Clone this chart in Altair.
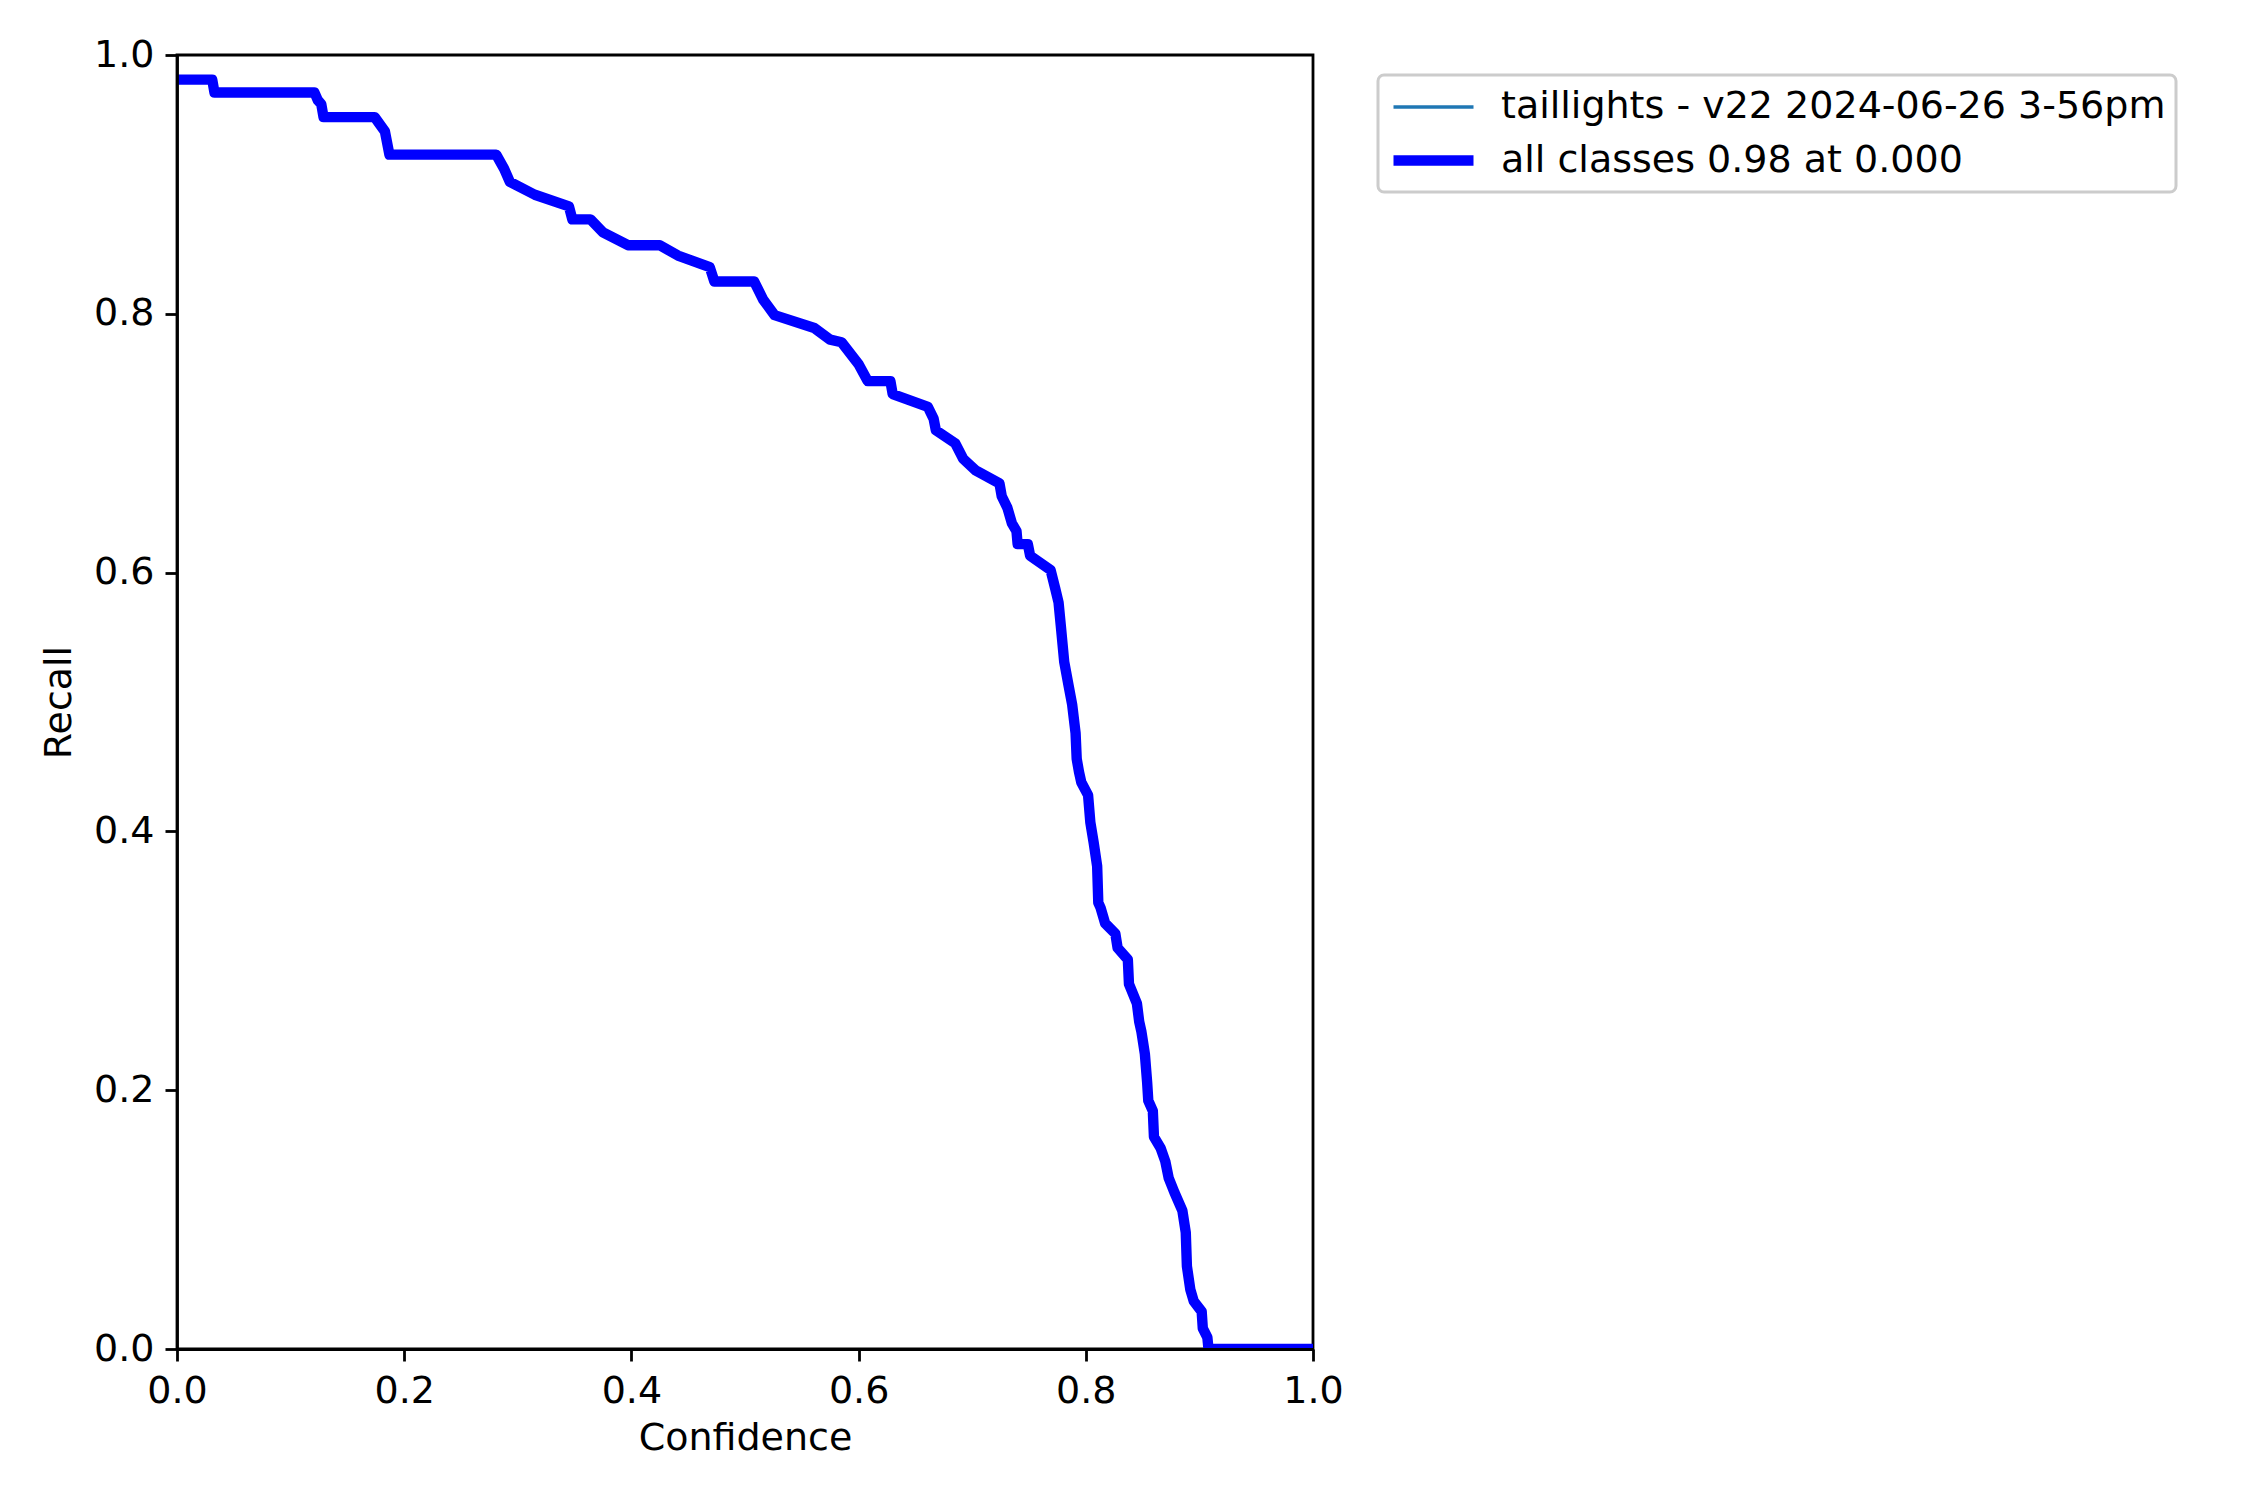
import altair as alt
import pandas as pd

# Curve values (confidence -> recall)
confidence = [0.0, 0.031, 0.033, 0.121, 0.124, 0.127, 0.129, 0.174, 0.183, 0.187,
              0.281, 0.288, 0.293, 0.315, 0.345, 0.348, 0.364, 0.375, 0.397, 0.425,
              0.441, 0.469, 0.473, 0.508, 0.516, 0.526, 0.561, 0.575, 0.585, 0.600,
              0.608, 0.628, 0.630, 0.661, 0.666, 0.668, 0.685, 0.692, 0.703, 0.724,
              0.726, 0.731, 0.735, 0.739, 0.740, 0.749, 0.751, 0.769, 0.773, 0.776,
              0.778, 0.781, 0.785, 0.788, 0.791, 0.792, 0.794, 0.796, 0.802, 0.804,
              0.807, 0.810, 0.811, 0.813, 0.817, 0.826, 0.828, 0.837, 0.838, 0.845,
              0.847, 0.849, 0.852, 0.854, 0.855, 0.859, 0.860, 0.866, 0.870, 0.873,
              0.878, 0.885, 0.888, 0.889, 0.892, 0.895, 0.902, 0.903, 0.907, 0.908,
              1.0]
recall = [0.981, 0.981, 0.971, 0.971, 0.965, 0.962, 0.952, 0.952, 0.941, 0.923,
          0.923, 0.912, 0.902, 0.892, 0.883, 0.873, 0.873, 0.863, 0.853, 0.853,
          0.845, 0.836, 0.825, 0.825, 0.811, 0.799, 0.789, 0.780, 0.778, 0.761,
          0.748, 0.748, 0.738, 0.728, 0.719, 0.710, 0.700, 0.688, 0.679, 0.669,
          0.659, 0.650, 0.638, 0.632, 0.622, 0.622, 0.613, 0.602, 0.588, 0.577,
          0.559, 0.531, 0.512, 0.498, 0.476, 0.456, 0.446, 0.438, 0.428, 0.407,
          0.391, 0.373, 0.345, 0.341, 0.329, 0.321, 0.310, 0.301, 0.282, 0.267,
          0.253, 0.245, 0.228, 0.206, 0.192, 0.184, 0.164, 0.155, 0.145, 0.132,
          0.121, 0.107, 0.090, 0.064, 0.046, 0.037, 0.029, 0.016, 0.009, 0.0,
          0.0]

series_names = ["taillights - v22 2024-06-26 3-56pm", "all classes 0.98 at 0.000"]
series_colors = ["#1f77b4", "#0000ff"]
series_widths = [3.5, 10.4]
tick_values = [0.0, 0.2, 0.4, 0.6, 0.8, 1.0]

rows = []
for order, name in enumerate(series_names):
    for c, r in zip(confidence, recall):
        rows.append({"series": name, "conf": c, "recall": r, "layer": order})
df = pd.DataFrame(rows)

FONT = "DejaVu Sans"
FS = 38

legend_kw = dict(orient="none", legendX=1201, legendY=20)

chart = alt.Chart(df).mark_line(clip=True, strokeJoin="round", strokeCap="butt").encode(
    x=alt.X("conf:Q", title="Confidence",
            scale=alt.Scale(domain=[0, 1], nice=False, zero=False),
            axis=alt.Axis(values=tick_values, format=".1f", grid=False,
                          labelFlush=False, titlePadding=9, zindex=1)),
    y=alt.Y("recall:Q", title="Recall",
            scale=alt.Scale(domain=[0, 1], nice=False, zero=False),
            axis=alt.Axis(values=tick_values, format=".1f", grid=False,
                          labelFlush=False, titlePadding=15, zindex=1)),
    color=alt.Color("series:N", title=None,
                    scale=alt.Scale(domain=series_names, range=series_colors),
                    legend=alt.Legend(**legend_kw)),
    strokeWidth=alt.StrokeWidth("series:N", title=None,
                                scale=alt.Scale(domain=series_names, range=series_widths),
                                legend=alt.Legend(**legend_kw)),
    detail="series:N",
    order=alt.Order("layer:Q"),
).properties(
    width=1136,
    height=1294,
    autosize=alt.AutoSizeParams(type="none"),
    padding={"left": 169, "top": 47, "right": 920, "bottom": 135},
).configure(
    background="white", font=FONT
).configure_view(
    stroke="black", strokeWidth=2.8, fill="white"
).configure_axis(
    labelFont=FONT, titleFont=FONT, labelFontSize=FS, titleFontSize=FS,
    titleFontWeight="normal", labelColor="black", titleColor="black",
    tickColor="black", tickWidth=2.8, tickSize=12, labelPadding=11,
    domain=True, domainColor="black", domainWidth=2.8,
).configure_legend(
    symbolType="M-1,0H3", symbolSize=1600, labelFont=FONT, labelFontSize=FS,
    labelColor="black", labelOffset=62, labelLimit=0, padding=10, rowPadding=9,
    strokeColor="#cccccc", fillColor="white", cornerRadius=6, strokeWidth=3,
)

chart.save("out.html", embed_options={"renderer": "svg", "actions": False})
